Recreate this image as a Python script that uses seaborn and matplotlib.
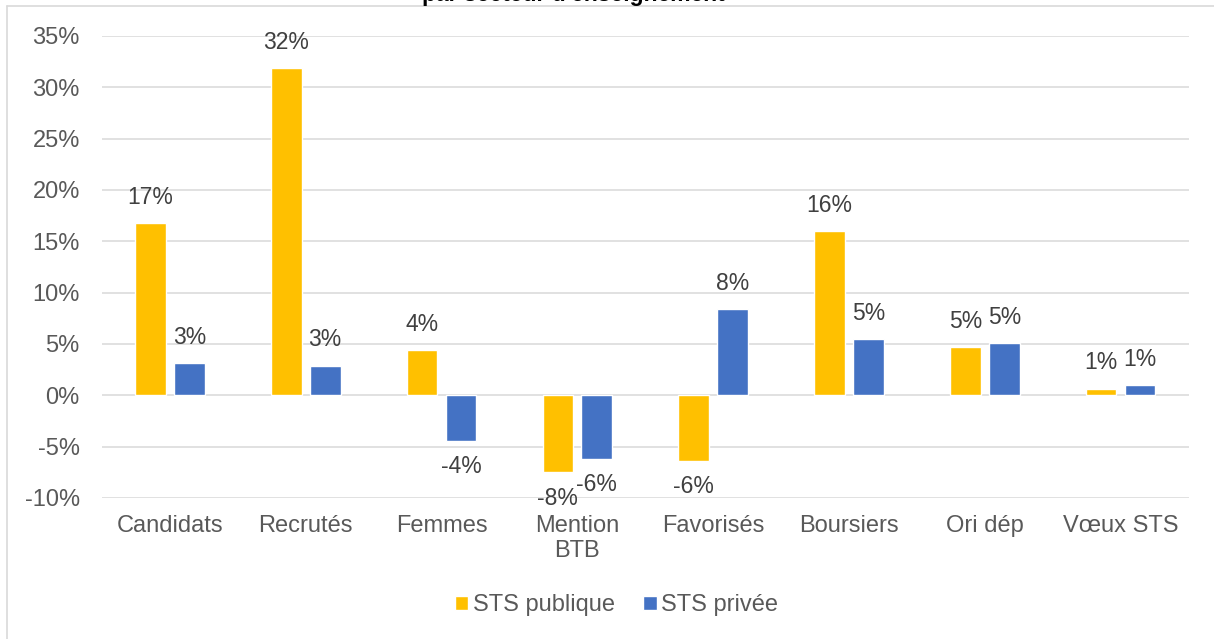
import seaborn as sns
import numpy as np
import pandas as pd
import matplotlib
matplotlib.use("Agg")
import matplotlib.pyplot as plt
from matplotlib.lines import Line2D

# données (en %)
categories = ["Candidats", "Recrutés", "Femmes", "Mention\nBTB", "Favorisés",
              "Boursiers", "Ori dép", "Vœux STS"]
sts_publique = [16.8, 31.9, 4.4, -7.5, -6.4, 16.0, 4.7, 0.65]
sts_privee = [3.1, 2.9, -4.45, -6.2, 8.4, 5.45, 5.05, 1.0]
series = ["STS publique", "STS privée"]
yticks = [-10, -5, 0, 5, 10, 15, 20, 25, 30, 35]

df = pd.DataFrame({
    "categorie": categories * 2,
    "valeur": sts_publique + sts_privee,
    "secteur": [series[0]] * len(categories) + [series[1]] * len(categories),
})

sns.set_theme(style="white")
plt.rcParams["font.family"] = ["Liberation Sans", "DejaVu Sans"]

fig = plt.figure(figsize=(12.14, 6.39), dpi=100)
ax = fig.add_axes([0.084, 0.2207, 0.895, 0.7230])

sns.barplot(data=df, x="categorie", y="valeur", hue="secteur",
            palette=["#FFC000", "#4472C4"], width=0.574, gap=0.213,
            errorbar=None, ax=ax, saturation=1)

ax.set_ylim(-10, 35)
ax.set_yticks(yticks)
ax.set_yticklabels([f"{t}%" for t in yticks])
ax.yaxis.grid(True, color="#D9D9D9", linewidth=1.1)
ax.set_axisbelow(True)
for s in ax.spines.values():
    s.set_visible(False)
ax.set_xlabel("")
ax.set_ylabel("")
ax.tick_params(axis="y", length=0, pad=16, labelsize=17, labelcolor="#595959")
ax.tick_params(axis="x", length=0, pad=12, labelsize=17, labelcolor="#595959")

# étiquettes de données
for cont in ax.containers:
    for p in cont:
        h = p.get_height()
        x = p.get_x() + p.get_width() / 2
        off = 18.5 if h >= 0 else -18.5
        ax.annotate(f"{round(h):.0f}%", (x, h), xytext=(0, off),
                    textcoords="offset points", ha="center", va="center",
                    fontsize=16.5, color="#404040")

handles, labels = ax.get_legend_handles_labels()
ax.get_legend().remove()
fig.legend(handles, labels, loc="center", bbox_to_anchor=(0.508, 0.053),
           ncol=2, frameon=False, fontsize=17, labelcolor="#595959",
           handlelength=0.56, handleheight=0.56, handletextpad=0.2,
           columnspacing=1.2)

# bordure de la zone de graphique (partielle) et titre coupé
fig.add_artist(Line2D([7 / 1214, 1], [1 - 5.5 / 639] * 2, color="#D9D9D9",
                      linewidth=1.2, transform=fig.transFigure))
fig.add_artist(Line2D([7 / 1214] * 2, [0, 1 - 5.5 / 639], color="#D9D9D9",
                      linewidth=1.2, transform=fig.transFigure))
fig.text(0.472, 1 - 0.5 / 639, "par secteur d'enseignement", ha="center",
         va="baseline", fontsize=16.5, fontweight="bold", color="#000000")

fig.savefig("out.png", dpi=100)
